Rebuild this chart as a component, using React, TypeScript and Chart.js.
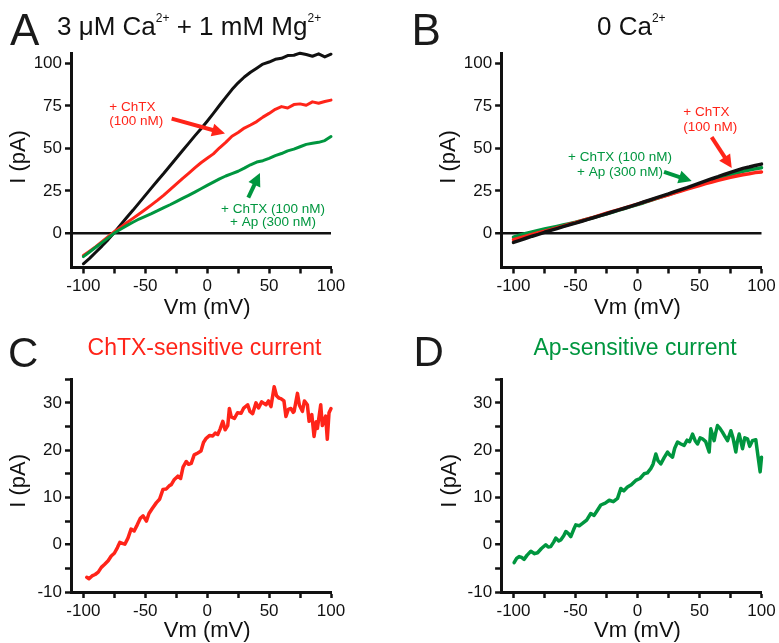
import React, { useEffect, useRef } from 'react';
import { Chart, registerables } from 'chart.js';

Chart.register(...registerables);

const RED = '#ff2419';
const GREEN = '#00963f';
const INK = '#111111';
const FONT = '"Liberation Sans", Arial, Helvetica, sans-serif';

// ---------- data ----------
// Panels A and B: membrane potential grid (mV)
const vmAB = [-100, -95, -90, -85, -80, -75, -70, -65, -60, -55, -50, -45, -40, -35, -30, -25, -20, -15, -10, -5, 0, 5, 10, 15, 20, 25, 30, 35, 40, 45, 50, 55, 60, 65, 70, 75, 80, 85, 90, 95, 100];

// A: 3 µM Ca2+ + 1 mM Mg2+ (pA)
const aControl = [-17.8, -14.6, -11.0, -7.4, -3.6, 0.6, 5.0, 9.4, 13.6, 18.0, 22.4, 26.8, 31.2, 35.4, 39.8, 44.2, 48.6, 53.0, 57.4, 61.6, 66.0, 70.6, 75.4, 80.0, 84.6, 88.6, 92.0, 94.8, 97.2, 99.6, 100.8, 102.4, 103.0, 104.6, 104.8, 106.0, 105.2, 104.2, 105.6, 103.8, 105.4];
const aChTX = [-13.0, -10.4, -7.7, -4.8, -1.9, 1.0, 3.6, 6.3, 8.9, 11.5, 14.1, 16.8, 19.6, 22.6, 25.8, 29.0, 32.3, 35.4, 38.6, 41.6, 44.2, 46.8, 50.4, 53.6, 57.2, 59.4, 62.0, 63.8, 65.8, 68.4, 70.6, 73.0, 74.6, 73.8, 75.8, 76.2, 75.4, 77.4, 76.6, 77.6, 78.4];
const aChTXAp = [-13.6, -10.9, -8.1, -5.4, -2.6, 0.3, 2.5, 4.6, 6.6, 8.5, 10.1, 11.7, 13.4, 15.2, 16.9, 18.7, 20.6, 22.4, 24.3, 26.3, 28.3, 30.2, 32.1, 33.8, 35.2, 36.6, 38.4, 40.4, 42.0, 42.8, 44.2, 45.8, 47.0, 48.6, 49.6, 51.0, 52.4, 53.0, 53.6, 54.6, 57.0];

// B: 0 Ca2+ (pA)
const bControl = [-5.2, -4.0, -2.8, -1.6, -0.5, 0.7, 1.8, 2.9, 4.0, 5.1, 6.1, 7.2, 8.3, 9.4, 10.5, 11.6, 12.8, 13.9, 15.0, 16.1, 17.3, 18.5, 19.7, 20.9, 22.1, 23.3, 24.6, 25.8, 27.0, 28.3, 29.6, 30.9, 32.2, 33.4, 34.7, 35.9, 37.1, 38.3, 39.1, 40.0, 40.8];
const bChTX = [-3.6, -2.6, -1.6, -0.6, 0.4, 1.3, 2.3, 3.3, 4.3, 5.4, 6.4, 7.5, 8.6, 9.6, 10.8, 11.9, 13.0, 14.0, 15.1, 16.2, 17.3, 18.4, 19.5, 20.6, 21.7, 22.8, 23.9, 25.0, 26.1, 27.2, 28.2, 29.3, 30.3, 31.2, 32.1, 33.0, 33.8, 34.5, 35.1, 35.8, 36.2];
const bChTXAp = [-2.2, -1.0, 0.0, 0.9, 1.8, 2.6, 3.4, 4.2, 5.0, 5.8, 6.6, 7.5, 8.5, 9.5, 10.5, 11.5, 12.6, 13.7, 14.8, 15.9, 17.0, 18.1, 19.3, 20.5, 21.7, 22.9, 24.1, 25.3, 26.5, 27.7, 28.9, 30.1, 31.3, 32.4, 33.5, 34.6, 35.6, 36.5, 37.3, 38.0, 38.6];

// C: ChTX-sensitive current
const cVm = [-97.3, -95.5, -93, -90.5, -88, -85.5, -83, -80, -77.5, -75, -72.5, -70.6, -68.5, -66.5, -64, -61.5, -59, -56.5, -54, -51.8, -49.1, -47, -44.5, -41, -38.5, -35.7, -33, -30.5, -29, -26.5, -23.7, -21.5, -19.5, -16.9, -15, -12.9, -10.5, -7.6, -5, -3, -0.8, 2, 4.5, 6.5, 8.5, 10.5, 12.6, 14.5, 16.6, 17.9, 19.5, 22, 24.5, 27.4, 29.5, 32.7, 34.5, 36.7, 39.4, 41.5, 44, 47.5, 49.5, 51.5, 54.1, 56, 58, 59.5, 62, 63.6, 65.5, 67.6, 69.5, 70.2, 72.9, 74.5, 76.9, 78.5, 80.9, 82.3, 84.5, 86.3, 88, 89, 91.7, 93, 95.7, 97, 98.4, 100, 101];
const cCurrent = [-6.9, -7.2, -6.6, -6.3, -5.8, -4.8, -4.2, -3.4, -2.4, -1.8, -0.6, 0.5, 0.3, 0.1, 1.4, 3.3, 2.9, 4.2, 5.6, 6.1, 5.0, 6.6, 7.6, 8.9, 9.6, 11.7, 11.8, 12.5, 12.7, 13.8, 14.5, 14.0, 16.4, 17.6, 17.0, 17.2, 19.0, 19.4, 19.8, 21.6, 22.5, 23.1, 23.0, 23.6, 23.3, 24.5, 26.1, 24.3, 25.2, 28.8, 27.0, 26.7, 27.9, 27.8, 28.9, 29.6, 28.2, 27.7, 30.0, 28.9, 30.2, 29.6, 30.4, 29.2, 33.4, 31.5, 31.0, 30.9, 30.4, 27.1, 28.6, 28.8, 28.0, 28.2, 32.0, 29.5, 28.2, 30.4, 29.6, 26.1, 27.5, 22.9, 26.0, 24.6, 29.6, 25.2, 27.2, 22.3, 27.9, 28.8, 26.6];

// D: Ap-sensitive current
const dVm = [-99.5, -97.5, -95.5, -93.5, -91.5, -89, -86, -83, -80.6, -77.5, -74, -72, -70, -67.5, -65.9, -63.5, -61.9, -59.5, -57.8, -55.5, -53.8, -51.5, -49.8, -47, -44.4, -41, -37.7, -35, -32.3, -29.6, -26, -22.8, -19.5, -16.1, -13.5, -11, -8.1, -5, -1.4, 2, 5.3, 8, 10.7, 12.5, 14.8, 16.5, 18.8, 21.5, 24.2, 26, 28.2, 30, 32.3, 35, 37.6, 40, 42, 44.4, 46.5, 48.4, 50.5, 52.4, 55, 57.8, 59.1, 60.5, 61.8, 63, 64.5, 66.5, 68.5, 70.5, 72.6, 75.3, 77, 79.3, 80.5, 82, 84.7, 86.5, 88.7, 90.5, 92.7, 95.4, 97.3, 98.9, 100, 100.8];
const dCurrent = [-3.8, -2.9, -2.5, -2.7, -3.1, -2.2, -1.4, -1.9, -1.7, -0.8, 0.0, -0.5, -0.4, 0.6, 1.4, 0.8, 1.0, 1.9, 2.8, 2.3, 1.7, 3.2, 4.2, 4.0, 4.5, 5.2, 6.6, 6.2, 7.3, 8.4, 8.8, 9.4, 9.1, 9.8, 11.9, 11.4, 12.2, 12.7, 13.6, 14.0, 15.0, 15.2, 16.1, 17.0, 19.2, 17.8, 17.1, 18.4, 19.6, 19.0, 18.5, 20.4, 21.7, 21.3, 21.0, 22.1, 21.8, 23.4, 22.0, 21.3, 22.6, 22.4, 21.8, 19.6, 24.5, 23.2, 22.0, 23.6, 25.2, 24.6, 23.8, 22.9, 22.0, 24.1, 22.6, 19.6, 21.8, 23.4, 20.3, 22.6, 22.4, 20.8, 22.0, 22.2, 18.5, 15.4, 18.5, 18.9];

// ticks
const xTicks = [-100, -75, -50, -25, 0, 25, 50, 75, 100];
const xLabeled = [-100, -50, 0, 50, 100];
const abYTicks = [0, 25, 50, 75, 100];
const cdYTicks = [-10, -5, 0, 5, 10, 15, 20, 25, 30, 35];
const cdYLabeled = [-10, 0, 10, 20, 30];

// ---------- drawing helpers ----------
function drawArrow(ctx: CanvasRenderingContext2D, x1: number, y1: number, x2: number, y2: number, color: string) {
  const headLen = 13;
  const headW = 13;
  const ang = Math.atan2(y2 - y1, x2 - x1);
  const bx = x2 - headLen * Math.cos(ang);
  const by = y2 - headLen * Math.sin(ang);
  ctx.strokeStyle = color;
  ctx.lineWidth = 4;
  ctx.lineCap = 'butt';
  ctx.beginPath();
  ctx.moveTo(x1, y1);
  ctx.lineTo(bx + Math.cos(ang), by + Math.sin(ang));
  ctx.stroke();
  ctx.fillStyle = color;
  ctx.beginPath();
  ctx.moveTo(x2, y2);
  ctx.lineTo(bx + (headW / 2) * Math.sin(ang), by - (headW / 2) * Math.cos(ang));
  ctx.lineTo(bx - (headW / 2) * Math.sin(ang), by + (headW / 2) * Math.cos(ang));
  ctx.closePath();
  ctx.fill();
}

const annotPlugin = {
  id: 'annot',
  afterDatasetsDraw(chart: any, _args: any, opts: any) {
    const { ctx, scales, chartArea } = chart;
    const xs = scales.x;
    const ys = scales.y;
    ctx.save();
    (opts.arrows || []).forEach((a: any) => {
      drawArrow(ctx, xs.getPixelForValue(a.x1), ys.getPixelForValue(a.y1), xs.getPixelForValue(a.x2), ys.getPixelForValue(a.y2), a.color);
    });
    (opts.texts || []).forEach((t: any) => {
      ctx.font = `13.5px ${FONT}`;
      ctx.fillStyle = t.color;
      ctx.textAlign = t.align || 'center';
      ctx.textBaseline = 'middle';
      ctx.fillText(t.text, xs.getPixelForValue(t.x), ys.getPixelForValue(t.y));
    });
    const at = opts.axisTitles;
    if (at) {
      ctx.font = `22px ${FONT}`;
      ctx.fillStyle = INK;
      ctx.textAlign = 'center';
      ctx.textBaseline = 'alphabetic';
      ctx.fillText(at.x, xs.getPixelForValue(0), chartArea.bottom + at.xBelow);
      ctx.save();
      ctx.translate(chartArea.left + at.yLeft, ys.getPixelForValue(at.yValue));
      ctx.rotate(-Math.PI / 2);
      ctx.textBaseline = 'middle';
      ctx.fillText(at.y, 0, 0);
      ctx.restore();
    }
    ctx.restore();
  },
};

function xScale(height: number) {
  return {
    type: 'linear',
    min: -110,
    max: 100,
    afterFit: (s: any) => { s.height = height; },
    afterBuildTicks: (s: any) => { s.ticks = xTicks.map((v) => ({ value: v })); },
    ticks: {
      autoSkip: false,
      maxRotation: 0,
      padding: 3,
      color: INK,
      font: { family: FONT, size: 17 },
      callback: (v: number) => (xLabeled.includes(v) ? String(v) : ''),
    },
    grid: {
      display: true,
      drawOnChartArea: false,
      drawTicks: true,
      tickLength: 6,
      tickWidth: 2.5,
      tickColor: INK,
      color: 'rgba(0,0,0,0)',
    },
    border: { display: true, color: INK, width: 3 },
  };
}

function yScale(min: number, max: number, ticks: number[], labeled: number[], width: number, zeroLine: boolean) {
  return {
    type: 'linear',
    min,
    max,
    afterFit: (s: any) => { s.width = width; },
    afterBuildTicks: (s: any) => { s.ticks = ticks.map((v) => ({ value: v })); },
    ticks: {
      autoSkip: false,
      padding: 3,
      color: INK,
      font: { family: FONT, size: 17 },
      callback: (v: number) => (labeled.includes(v) ? String(v) : ''),
    },
    grid: {
      display: true,
      drawOnChartArea: zeroLine,
      drawTicks: true,
      tickLength: 6,
      tickWidth: 2.5,
      tickColor: INK,
      color: (c: any) => (zeroLine && c.tick && c.tick.value === 0 ? INK : 'rgba(0,0,0,0)'),
      lineWidth: (c: any) => (c.tick && c.tick.value === 0 ? 2.5 : 1),
    },
    border: { display: true, color: INK, width: 3 },
  };
}

function series(vm: number[], vals: number[], color: string, width: number) {
  return {
    data: vm.map((v, i) => ({ x: v, y: vals[i] })),
    borderColor: color,
    borderWidth: width,
    pointRadius: 0,
    fill: false,
    tension: 0,
    clip: false,
    borderJoinStyle: 'round',
    borderCapStyle: 'round',
  };
}

function config(datasets: any[], padding: any, xHeight: number, y: any, annot: any) {
  return {
    type: 'line',
    data: { datasets },
    options: {
      responsive: false,
      animation: false,
      events: [],
      layout: { padding },
      plugins: { legend: { display: false }, tooltip: { enabled: false }, annot },
      scales: { x: xScale(xHeight), y },
    },
    plugins: [annotPlugin],
  } as any;
}

const panelA = () =>
  config(
    [series(vmAB, aChTXAp, GREEN, 3), series(vmAB, aChTX, RED, 3), series(vmAB, aControl, INK, 3)],
    { top: 10.4, right: 59, left: 0, bottom: 0 },
    57.5,
    yScale(-20, 106, abYTicks, abYTicks, 71, true),
    {
      texts: [
        { x: -79.1, y: 74.3, text: '+ ChTX', color: RED, align: 'left' },
        { x: -79.1, y: 65.9, text: '(100 nM)', color: RED, align: 'left' },
        { x: 53.2, y: 14.4, text: '+ ChTX (100 nM)', color: GREEN },
        { x: 53.2, y: 6.7, text: '+ Ap (300 nM)', color: GREEN },
      ],
      arrows: [
        { x1: -28.7, y1: 67.5, x2: 14.4, y2: 58.8, color: RED },
        { x1: 33.2, y1: 21.1, x2: 42.6, y2: 35.6, color: GREEN },
      ],
      axisTitles: { x: 'Vm (mV)', xBelow: 46.8, y: 'I (pA)', yLeft: -52.5, yValue: 45 },
    }
  );

const panelB = () =>
  config(
    [series(vmAB, bControl, INK, 3.5), series(vmAB, bChTX, RED, 3.5), series(vmAB, bChTXAp, GREEN, 3.5)],
    { top: 10.4, right: 17.5, left: 0, bottom: 0 },
    57.5,
    yScale(-20, 106, abYTicks, abYTicks, 71.1, true),
    {
      texts: [
        { x: 36.9, y: 71.4, text: '+ ChTX', color: RED, align: 'left' },
        { x: 36.9, y: 62.7, text: '(100 nM)', color: RED, align: 'left' },
        { x: -14.1, y: 44.8, text: '+ ChTX (100 nM)', color: GREEN },
        { x: -14.1, y: 36, text: '+ Ap (300 nM)', color: GREEN },
      ],
      arrows: [
        { x1: 59.8, y1: 56.7, x2: 76, y2: 38.5, color: RED },
        { x1: 21.4, y1: 36.2, x2: 43.7, y2: 30.8, color: GREEN },
      ],
      axisTitles: { x: 'Vm (mV)', xBelow: 46.8, y: 'I (pA)', yLeft: -52, yValue: 45 },
    }
  );

const panelC = () =>
  config(
    [series(cVm, cCurrent, RED, 3.5)],
    { top: 12, right: 59, left: 0, bottom: 0 },
    51,
    yScale(-10, 35, cdYTicks, cdYLabeled, 71, false),
    { axisTitles: { x: 'Vm (mV)', xBelow: 44.7, y: 'I (pA)', yLeft: -52.5, yValue: 13.5 } }
  );

const panelD = () =>
  config(
    [series(dVm, dCurrent, GREEN, 3.5)],
    { top: 12, right: 17.5, left: 0, bottom: 0 },
    51,
    yScale(-10, 35, cdYTicks, cdYLabeled, 71.1, false),
    { axisTitles: { x: 'Vm (mV)', xBelow: 44.7, y: 'I (pA)', yLeft: -51.5, yValue: 13.5 } }
  );

function Panel({ left, top, width, height, build }: any) {
  const ref = useRef<HTMLCanvasElement>(null);
  useEffect(() => {
    const chart = new Chart(ref.current as HTMLCanvasElement, build());
    return () => chart.destroy();
  }, []);
  return (
    <canvas
      ref={ref}
      width={width}
      height={height}
      style={{ position: 'absolute', left, top, width, height }}
    />
  );
}

const sup: React.CSSProperties = { fontSize: 12, verticalAlign: '13px', lineHeight: 0 };

function Letter({ ch, left, top, size }: any) {
  return (
    <div style={{ position: 'absolute', left, top, fontSize: size, lineHeight: `${size}px`, color: '#1a1a1a' }}>{ch}</div>
  );
}

export default function App() {
  return (
    <div
      style={{
        position: 'absolute',
        left: 0,
        top: 0,
        width: 779,
        height: 643,
        background: '#ffffff',
        overflow: 'hidden',
        fontFamily: FONT,
        color: INK,
      }}
    >
      <Panel left={0} top={40} width={390} height={285} build={panelA} />
      <Panel left={430} top={40} width={349} height={285} build={panelB} />
      <Panel left={0} top={366} width={390} height={277} build={panelC} />
      <Panel left={430} top={366} width={349} height={277} build={panelD} />

      <Letter ch="A" left={10} top={7.8} size={44} />
      <Letter ch="B" left={411.5} top={7.8} size={44} />
      <Letter ch="C" left={8} top={332} size={42} />
      <Letter ch="D" left={413.4} top={331} size={42} />

      <div style={{ position: 'absolute', left: 57, top: 13, fontSize: 26, lineHeight: '26px', whiteSpace: 'nowrap' }}>
        3 μM Ca<span style={sup}>2+</span> + 1 mM Mg<span style={sup}>2+</span>
      </div>
      <div style={{ position: 'absolute', left: 597, top: 13, fontSize: 26, lineHeight: '26px', whiteSpace: 'nowrap' }}>
        0 Ca<span style={sup}>2+</span>
      </div>
      <div style={{ position: 'absolute', left: 0, width: 409, top: 335.5, fontSize: 23, lineHeight: '23px', textAlign: 'center', color: RED, whiteSpace: 'nowrap' }}>
        ChTX-sensitive current
      </div>
      <div style={{ position: 'absolute', left: 430, width: 410, top: 335.5, fontSize: 23, lineHeight: '23px', textAlign: 'center', color: GREEN, whiteSpace: 'nowrap' }}>
        Ap-sensitive current
      </div>
    </div>
  );
}
